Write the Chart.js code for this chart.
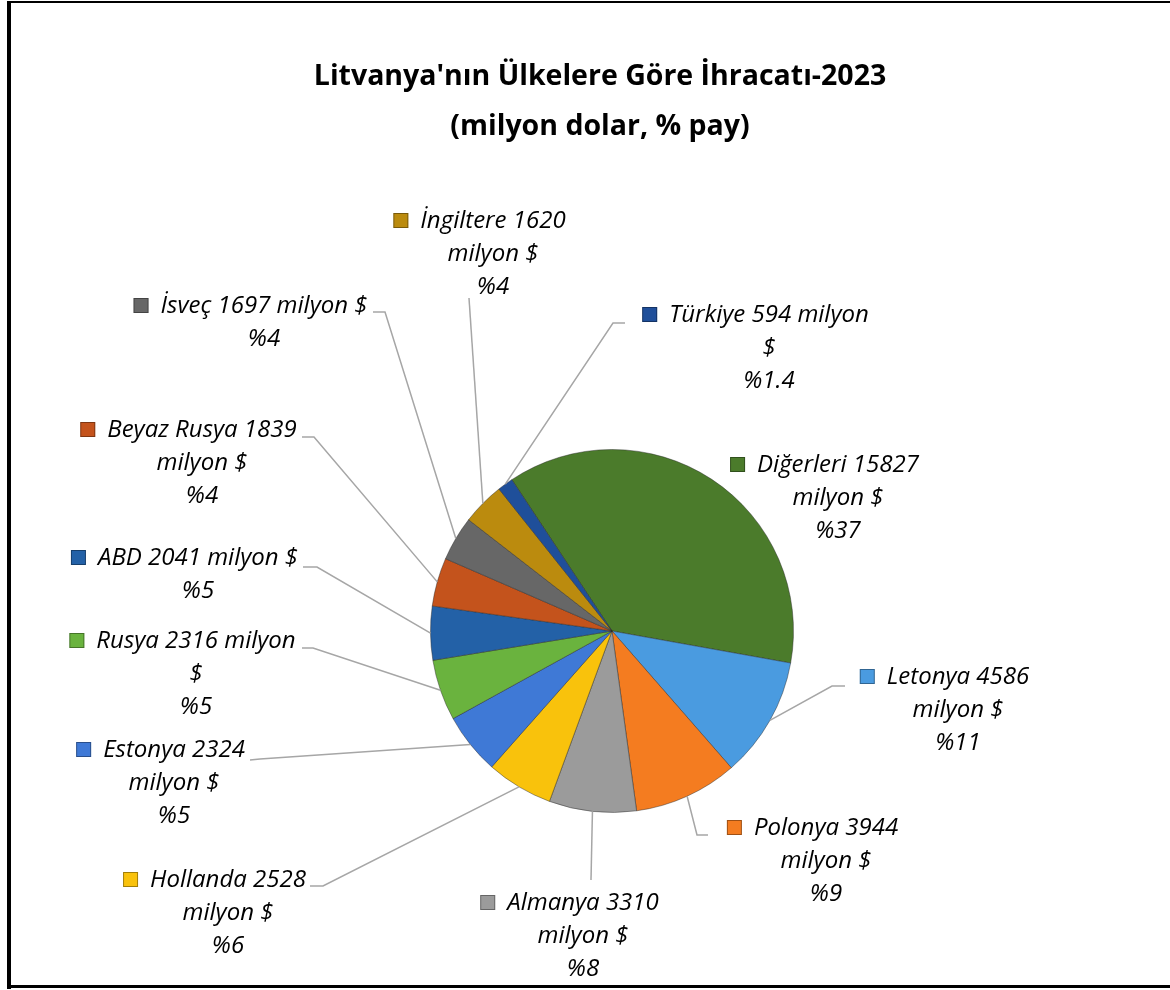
<!DOCTYPE html>
<html>
<head>
<meta charset="utf-8">
<script src="https://cdn.jsdelivr.net/npm/chart.js@4/dist/chart.umd.min.js"></script>
<style>
  html, body { margin: 0; padding: 0; background: #fff; }
  canvas { display: block; }
</style>
</head>
<body>
<canvas id="pasta" width="1170" height="990"></canvas>
<script>
// veriler (milyon dolar)
const ulkeler = ['Diğerleri', 'Letonya', 'Polonya', 'Almanya', 'Hollanda', 'Estonya',
                 'Rusya', 'ABD', 'Beyaz Rusya', 'İsveç', 'İngiltere', 'Türkiye'];
const degerler = [15827, 4586, 3944, 3310, 2528, 2324, 2316, 2041, 1839, 1697, 1620, 594];
const paylar = ['%37', '%11', '%9', '%8', '%6', '%5', '%5', '%5', '%4', '%4', '%4', '%1.4'];

const baslik = ["Litvanya'nın Ülkelere Göre İhracatı-2023", '(milyon dolar, % pay)'];

// renkler
const renkler = ['#4b7b2b', '#4a9be0', '#f47c20', '#9b9b9b', '#f9c20c', '#3f79d6',
                 '#6ab33e', '#2361a7', '#c4531c', '#676767', '#bb8b0e', '#1f4f9a'];

// etiket yerleşimi: [merkez x, ilk satır y, ilk satırdaki kelime sayısı]
const etiketYer = [
  [838, 465, 2], [958, 677, 2], [826, 828, 2], [583, 903, 2],
  [228, 880, 2], [174, 750, 2], [196, 641, 3], [198, 558, 4],
  [202, 430, 3], [264, 306, 4], [493, 221, 2], [769, 315, 3]
];
// kılavuz çizgileri: [başlangıç x, y, dirsek x, y] (null = çizgi yok)
const kilavuz = [
  null, [845, 686, 832, 686], [708, 835, 697, 835], [591, 880, 591, 880],
  [310, 886, 323, 886], [250, 760, 260, 759], [302, 648, 313, 648], [303, 567, 317, 567],
  [302, 437, 314, 437], [373, 312, 385, 312], [469, 298, 469, 298], [625, 323, 613, 323]
];

const etiketFont = 'italic 24px "Open Sans", sans-serif';

const etiketler = {
  id: 'etiketler',
  afterDatasetsDraw(chart) {
    const ctx = chart.ctx;
    const arcs = chart.getDatasetMeta(0).data;
    ctx.save();
    // kılavuz çizgileri
    ctx.strokeStyle = '#a6a6a6';
    ctx.lineWidth = 1.5;
    arcs.forEach((arc, i) => {
      const k = kilavuz[i];
      if (!k) return;
      const p = arc.getProps(['x', 'y', 'startAngle', 'endAngle', 'outerRadius'], true);
      const a = (p.startAngle + p.endAngle) / 2;
      const ex = p.x + Math.cos(a) * p.outerRadius;
      const ey = p.y + Math.sin(a) * p.outerRadius;
      ctx.beginPath();
      ctx.moveTo(k[0], k[1]);
      ctx.lineTo(k[2], k[3]);
      ctx.lineTo(ex, ey);
      ctx.stroke();
    });
    // metinler
    ctx.font = etiketFont;
    ctx.fillStyle = '#000';
    ctx.textBaseline = 'middle';
    ctx.textAlign = 'left';
    ulkeler.forEach((ad, i) => {
      const [cx, y1, n] = etiketYer[i];
      const kelimeler = (ad + ' ' + degerler[i] + ' milyon $').split(' ');
      const satirlar = [kelimeler.slice(0, n).join(' ')];
      if (kelimeler.length > n) satirlar.push(kelimeler.slice(n).join(' '));
      satirlar.push(paylar[i]);
      satirlar.forEach((s, j) => {
        const w = ctx.measureText(s).width;
        const x = cx - w / 2;
        const y = y1 + j * 33;
        ctx.fillText(s, x, y);
        if (j === 0) {
          const mx = x - 27, my = y - 8;
          ctx.fillStyle = renkler[i];
          ctx.fillRect(mx, my, 15, 15);
          ctx.strokeStyle = 'rgba(0,0,0,0.35)';
          ctx.lineWidth = 1;
          ctx.strokeRect(mx + 0.5, my + 0.5, 14, 14);
          ctx.fillStyle = '#000';
        }
      });
    });
    ctx.restore();
  },
  afterDraw(chart) {
    const ctx = chart.ctx;
    ctx.save();
    // başlık
    ctx.font = 'bold 28.5px "Open Sans", sans-serif';
    ctx.fillStyle = '#000';
    ctx.textAlign = 'center';
    ctx.textBaseline = 'middle';
    ctx.fillText(baslik[0], 600, 77);
    ctx.fillText(baslik[1], 600, 127);
    // çerçeve
    ctx.fillStyle = '#000';
    ctx.fillRect(7, 1, 4, 988);
    ctx.fillRect(7, 1, 1163, 2);
    ctx.fillRect(7, 985, 1163, 3);
    ctx.restore();
  }
};

new Chart(document.getElementById('pasta'), {
  type: 'pie',
  data: {
    labels: ulkeler,
    datasets: [{
      data: degerler,
      backgroundColor: renkler,
      borderColor: 'rgba(40,40,40,0.45)',
      borderWidth: 1
    }]
  },
  options: {
    responsive: false,
    animation: false,
    rotation: -33.5,
    layout: { padding: { left: 430, right: 376, top: 449, bottom: 177 } },
    plugins: {
      legend: { display: false },
      tooltip: { enabled: false },
      title: { display: false }
    }
  },
  plugins: [etiketler]
});
</script>
</body>
</html>
